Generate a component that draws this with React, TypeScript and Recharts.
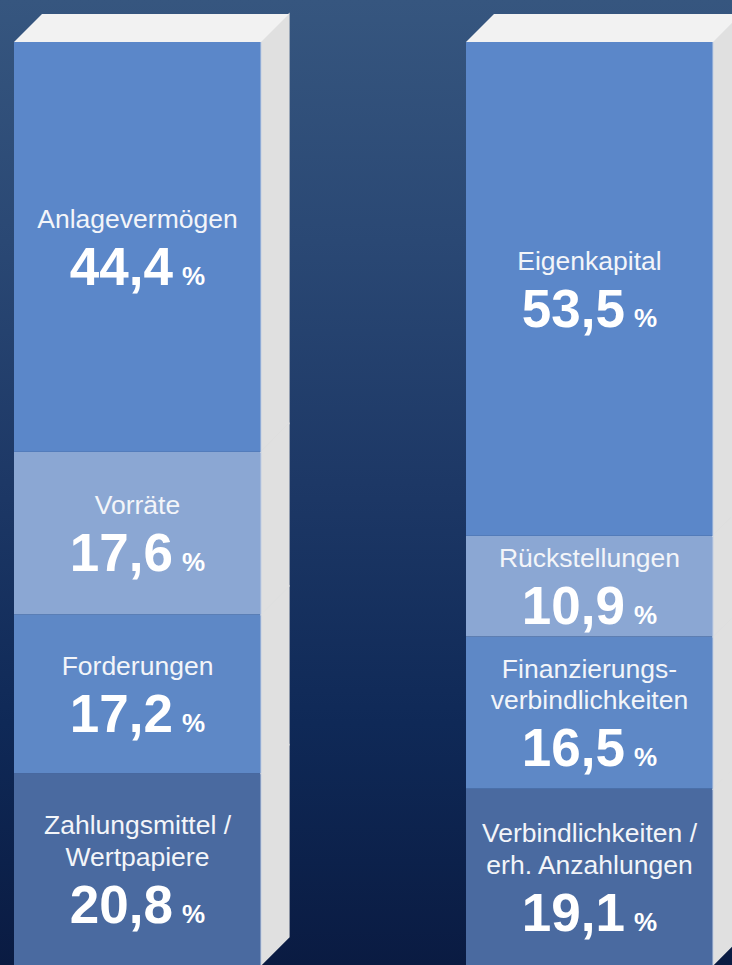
import { BarChart, Bar, XAxis, YAxis, LabelList } from 'recharts';

const categories = ['Aktiva', 'Passiva'];

// stacked bottom -> top
const aktivaValues = [20.8, 17.2, 17.6, 44.4];
const passivaValues = [19.1, 16.5, 10.9, 53.5];

const aktivaLabels = [
  ['Zahlungsmittel /', 'Wertpapiere'],
  ['Forderungen'],
  ['Vorräte'],
  ['Anlagevermögen'],
];
const passivaLabels = [
  ['Verbindlichkeiten /', 'erh. Anzahlungen'],
  ['Finanzierungs-', 'verbindlichkeiten'],
  ['Rückstellungen'],
  ['Eigenkapital'],
];

const segmentColors = ['#4a6aa0', '#5e88c6', '#8ba7d3', '#5b87c9'];
const seriesKeys = ['s0', 's1', 's2', 's3'];

const valueSets = [aktivaValues, passivaValues];
const labelSets = [aktivaLabels, passivaLabels];

const chartData = categories.map((name, i) => {
  const row: { [key: string]: string | number } = { name };
  seriesKeys.forEach((k, j) => {
    row[k] = valueSets[i][j];
  });
  return row;
});

const DEPTH = 28;
const FONT = '"Liberation Sans", Arial, sans-serif';

const makeShape = (isTop: boolean) => (props: any) => {
  const { x, y, width, height, fill } = props;
  if (width == null || height == null) return null;
  const side = `${x + width},${y} ${x + width + DEPTH},${y - DEPTH} ${x + width + DEPTH},${y + height - DEPTH} ${x + width},${y + height}`;
  const top = `${x},${y} ${x + DEPTH},${y - DEPTH} ${x + width + DEPTH},${y - DEPTH} ${x + width},${y}`;
  return (
    <g>
      <polygon points={side} fill="#e0e0e0" stroke="#e0e0e0" strokeWidth={1.2} />
      {isTop && <polygon points={top} fill="#f2f2f2" />}
      <rect x={x} y={y} width={width} height={height} fill={fill} />
      <line x1={x + width} y1={y} x2={x + width} y2={y + height} stroke="#c4cfe2" strokeWidth={1} />
    </g>
  );
};

const makeLabel = (level: number) => (props: any) => {
  const vb = props.viewBox || {};
  const x = props.x ?? vb.x;
  const y = props.y ?? vb.y;
  const width = props.width ?? vb.width;
  const height = props.height ?? vb.height;
  const idx = props.index ?? 0;
  const lines = labelSets[idx][level];
  const value = valueSets[idx][level];
  const cx = x + width / 2;
  const cy = y + height / 2;
  const lineGap = 31.7;
  const blockH = 19 + lineGap * (lines.length - 1) + 57;
  const firstBase = cy - blockH / 2 + 19;
  const valueBase = firstBase + lineGap * (lines.length - 1) + 57;
  return (
    <g>
      {lines.map((ln, i) => (
        <text
          key={i}
          x={cx}
          y={firstBase + i * lineGap}
          textAnchor="middle"
          fill="#f3f5f9"
          fontFamily={FONT}
          fontSize={26.5}
        >
          {ln}
        </text>
      ))}
      <text x={cx} y={valueBase} textAnchor="middle" fill="#ffffff" fontFamily={FONT} fontWeight="bold" fontSize={53}>
        {value.toFixed(1).replace('.', ',')}
        <tspan fontSize={26} dx={9}>%</tspan>
      </text>
    </g>
  );
};

export default function App() {
  return (
    <div
      style={{
        position: 'absolute',
        left: 0,
        top: 0,
        width: 732,
        height: 965,
        overflow: 'hidden',
        background: 'linear-gradient(to bottom, #36567f 0%, #2a4874 25%, #1d3866 50%, #0f2957 75%, #0a1b42 100%)',
      }}
    >
      <div style={{ position: 'absolute', left: -89, top: 0 }}>
        <BarChart
          width={904}
          height={965}
          data={chartData}
          margin={{ top: 42, right: 0, left: 0, bottom: 0 }}
          barSize={247}
        >
          <XAxis dataKey="name" hide />
          <YAxis hide domain={[0, 100]} />
          {seriesKeys.map((k, j) => (
            <Bar
              key={k}
              dataKey={k}
              stackId="bilanz"
              fill={segmentColors[j]}
              isAnimationActive={false}
              shape={makeShape(j === seriesKeys.length - 1)}
            >
              <LabelList dataKey={k} content={makeLabel(j)} />
            </Bar>
          ))}
        </BarChart>
      </div>
    </div>
  );
}
